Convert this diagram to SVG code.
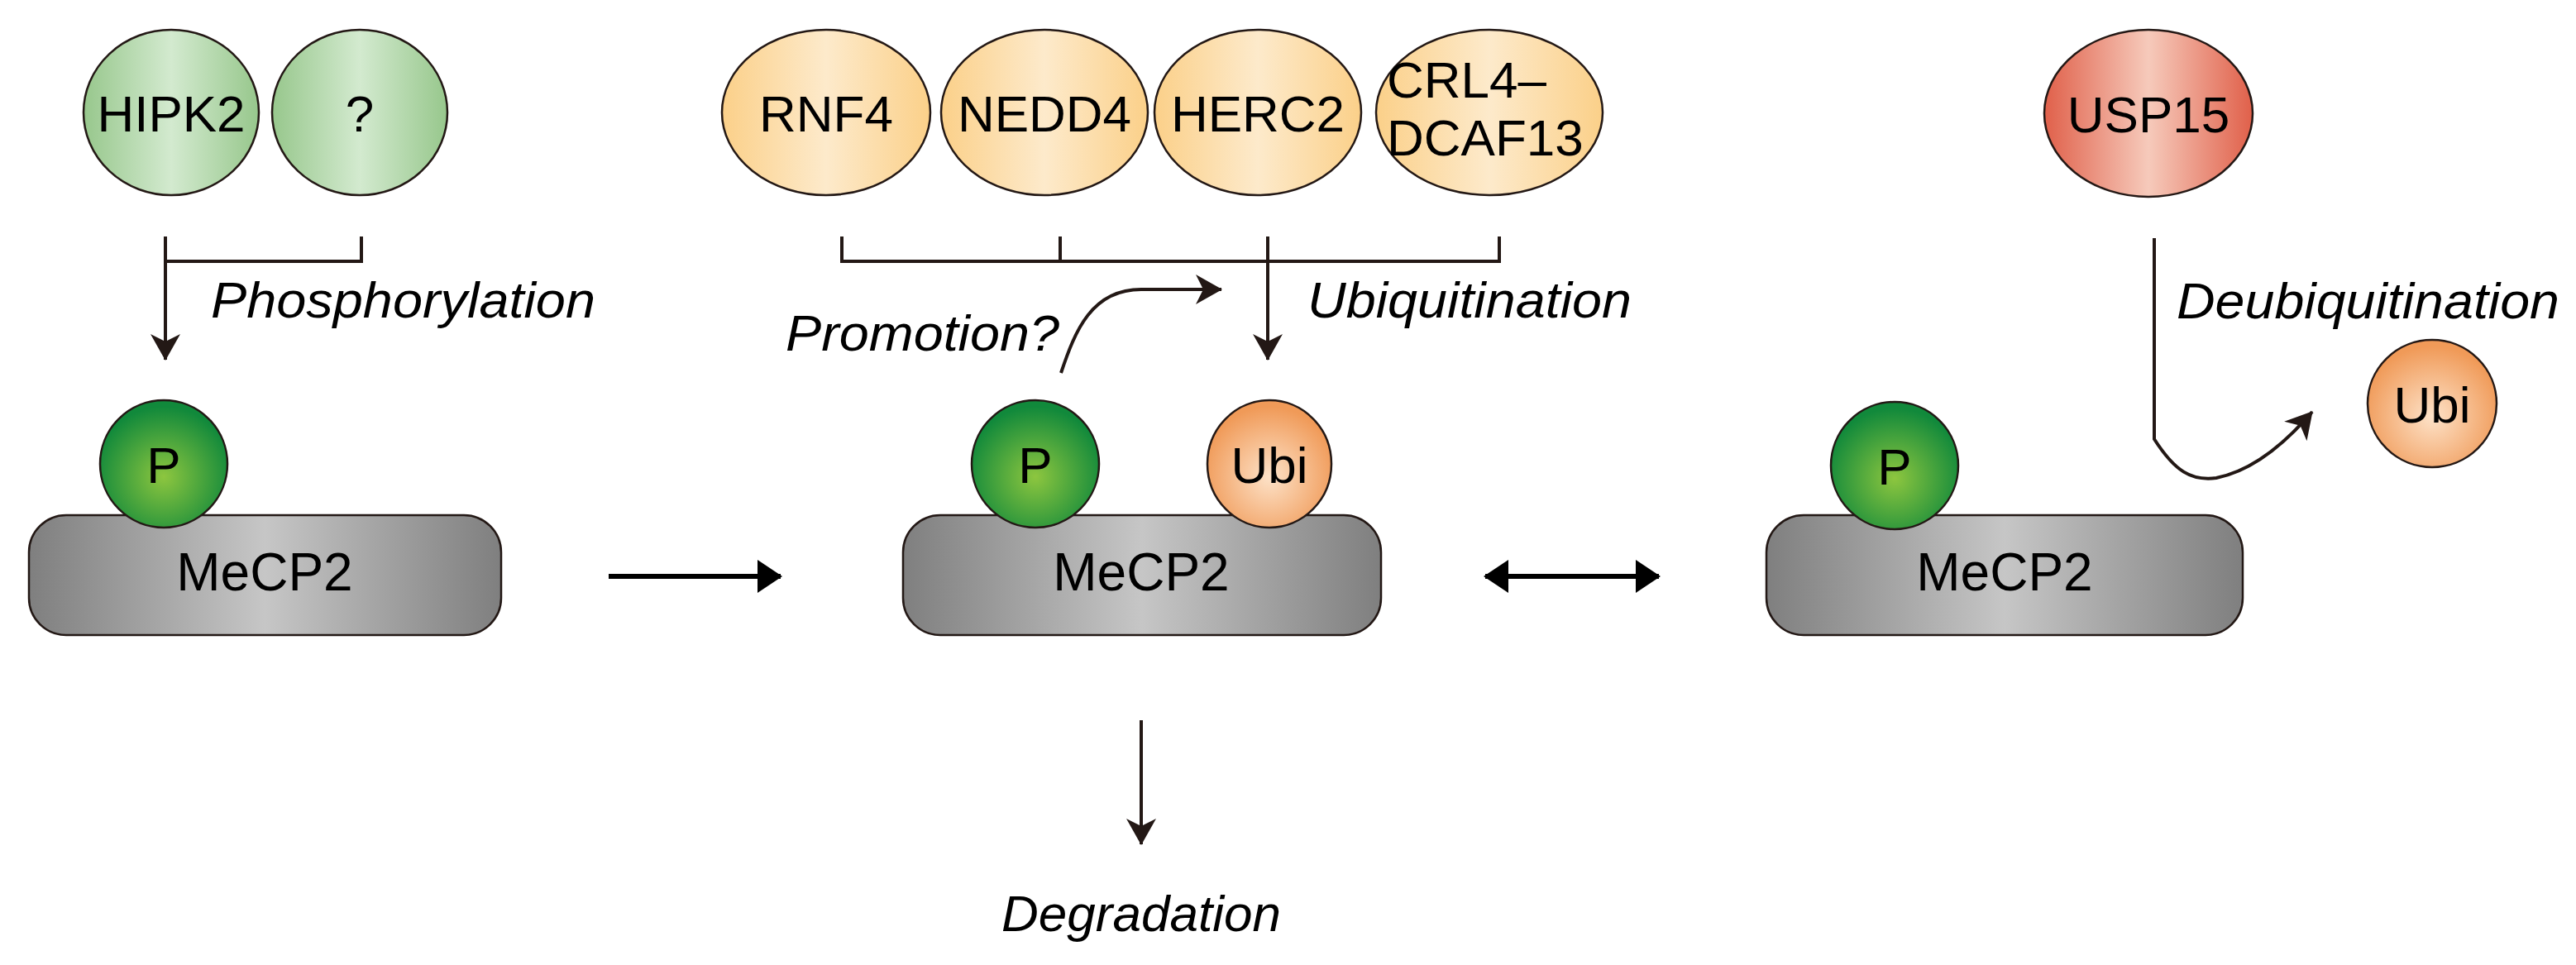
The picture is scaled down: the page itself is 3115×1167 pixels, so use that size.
<svg xmlns="http://www.w3.org/2000/svg" width="3115" height="1167" viewBox="0 0 3115 1167">
<defs>
<linearGradient id="gG" x1="0" x2="1" y1="0" y2="0"><stop offset="0" stop-color="#97c78c"/><stop offset="0.5" stop-color="#d3eacf"/><stop offset="1" stop-color="#97c78c"/></linearGradient>
<linearGradient id="gO" x1="0" x2="1" y1="0" y2="0"><stop offset="0" stop-color="#fbd089"/><stop offset="0.5" stop-color="#fdeacb"/><stop offset="1" stop-color="#fbd089"/></linearGradient>
<linearGradient id="gR" x1="0" x2="1" y1="0" y2="0"><stop offset="0" stop-color="#e0604a"/><stop offset="0.5" stop-color="#f6cabb"/><stop offset="1" stop-color="#e0604a"/></linearGradient>
<linearGradient id="gM" x1="0" x2="1" y1="0" y2="0"><stop offset="0" stop-color="#7f7f7f"/><stop offset="0.5" stop-color="#c6c6c6"/><stop offset="1" stop-color="#7f7f7f"/></linearGradient>
<radialGradient id="gP" cx="0.5" cy="0.6" r="0.55"><stop offset="0" stop-color="#8dc63f"/><stop offset="1" stop-color="#11893b"/></radialGradient>
<radialGradient id="gU" cx="0.5" cy="0.6" r="0.55"><stop offset="0" stop-color="#fde2c8"/><stop offset="1" stop-color="#f09a58"/></radialGradient>
<marker id="ah" viewBox="0 0 32 36" refX="31" refY="18" markerWidth="32" markerHeight="36" markerUnits="userSpaceOnUse" orient="auto"><path d="M0,0 L32,18 L0,36 L9,18 Z" fill="#231815"/></marker>
<marker id="ahb" viewBox="0 0 30 40" refX="28" refY="20" markerWidth="30" markerHeight="40" markerUnits="userSpaceOnUse" orient="auto-start-reverse"><path d="M0,0 L30,20 L0,40 Z" fill="#000"/></marker>
</defs>
<style>
.e{stroke:#231815;stroke-width:2.5}
.t{font-family:"Liberation Sans",Arial,sans-serif;font-size:62px;fill:#000;text-anchor:middle}
.i{font-family:"Liberation Sans",Arial,sans-serif;font-size:62px;font-style:italic;fill:#000}
.l{fill:none;stroke:#231815;stroke-width:4}
</style>
<g id="HIPK2"><ellipse class="e" cx="207" cy="136" rx="106" ry="100" fill="url(#gG)"/><text class="t" x="207" y="159">HIPK2</text></g>
<g id="unknown"><ellipse class="e" cx="435" cy="136" rx="106" ry="100" fill="url(#gG)"/><text class="t" x="435" y="159">?</text></g>
<g id="RNF4"><ellipse class="e" cx="999" cy="136" rx="126" ry="100" fill="url(#gO)"/><text class="t" x="999" y="159">RNF4</text></g>
<g id="NEDD4"><ellipse class="e" cx="1263" cy="136" rx="125" ry="100" fill="url(#gO)"/><text class="t" x="1263" y="159">NEDD4</text></g>
<g id="HERC2"><ellipse class="e" cx="1521" cy="136" rx="125" ry="100" fill="url(#gO)"/><text class="t" x="1521" y="159">HERC2</text></g>
<g id="CRL4"><ellipse class="e" cx="1801" cy="136" rx="137" ry="100" fill="url(#gO)"/><text class="t" x="1677" y="118" style="text-anchor:start">CRL4–</text><text class="t" x="1677" y="188" style="text-anchor:start">DCAF13</text></g>
<g id="USP15"><ellipse class="e" cx="2598" cy="137" rx="126" ry="101" fill="url(#gR)"/><text class="t" x="2598" y="160">USP15</text></g>
<g id="MeCP2a"><rect class="e" x="35" y="623" width="571" height="145" rx="45" fill="url(#gM)"/><text class="t" x="320" y="714" style="font-size:64px">MeCP2</text><ellipse class="e" cx="198" cy="561" rx="77" ry="77" fill="url(#gP)"/><text class="t" x="198" y="584">P</text></g>
<g id="MeCP2b"><rect class="e" x="1092" y="623" width="578" height="145" rx="45" fill="url(#gM)"/><text class="t" x="1380" y="714" style="font-size:64px">MeCP2</text><ellipse class="e" cx="1252" cy="561" rx="77" ry="77" fill="url(#gP)"/><text class="t" x="1252" y="584">P</text><ellipse class="e" cx="1535" cy="561" rx="75" ry="77" fill="url(#gU)"/><text class="t" x="1535" y="584">Ubi</text></g>
<g id="MeCP2c"><rect class="e" x="2136" y="623" width="576" height="145" rx="45" fill="url(#gM)"/><text class="t" x="2424" y="714" style="font-size:64px">MeCP2</text><ellipse class="e" cx="2291" cy="563" rx="77" ry="77" fill="url(#gP)"/><text class="t" x="2291" y="586">P</text></g>
<g id="Ubi"><ellipse class="e" cx="2941" cy="488" rx="78" ry="77" fill="url(#gU)"/><text class="t" x="2941" y="511">Ubi</text></g>
<g id="connectors">
<path class="l" d="M200,286 V316 H437 V286"/>
<path class="l" d="M200,316 V435" marker-end="url(#ah)"/>
<path class="l" d="M1018,286 V316 H1813 V286 M1282,286 V316 M1533,286 V316"/>
<path class="l" d="M1533,316 V435" marker-end="url(#ah)"/>
<path class="l" d="M1283,451 C1300,400 1320,350 1380,350 H1477" marker-end="url(#ah)"/>
<path class="l" d="M2605,288 V531 C2630,570 2650,582 2680,578 C2720,570 2760,540 2796,498" marker-end="url(#ah)"/>
<path class="l" d="M1380,871 V1021" marker-end="url(#ah)"/>
<path d="M736,697 H944" fill="none" stroke="#000" stroke-width="6" marker-end="url(#ahb)"/>
<path d="M1796,697 H2006" fill="none" stroke="#000" stroke-width="6" marker-start="url(#ahb)" marker-end="url(#ahb)"/>
</g>
<g id="labels">
<text class="i" x="255" y="384" textLength="465" lengthAdjust="spacingAndGlyphs">Phosphorylation</text>
<text class="i" x="950" y="424" textLength="331" lengthAdjust="spacingAndGlyphs">Promotion?</text>
<text class="i" x="1581" y="384" textLength="392" lengthAdjust="spacingAndGlyphs">Ubiquitination</text>
<text class="i" x="2632" y="385" textLength="463" lengthAdjust="spacingAndGlyphs">Deubiquitination</text>
<text class="i" x="1380" y="1126" style="text-anchor:middle">Degradation</text>
</g>
</svg>
